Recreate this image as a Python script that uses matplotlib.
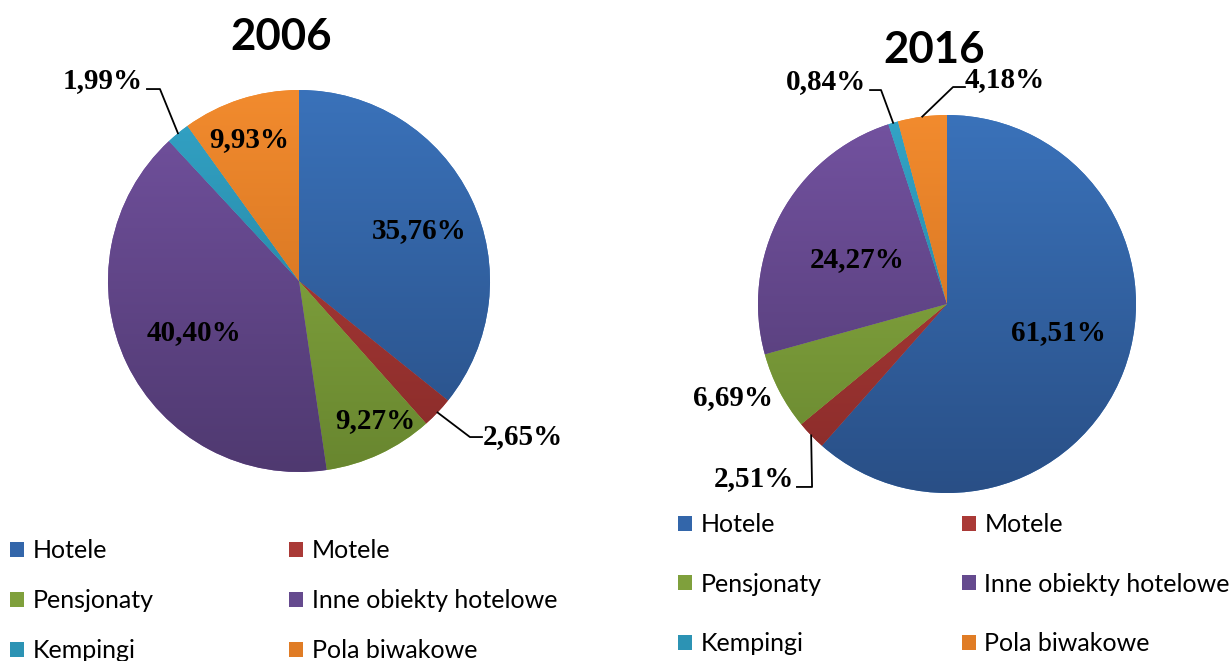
import numpy as np
import matplotlib
matplotlib.use('Agg')
import matplotlib.pyplot as plt
from matplotlib.patches import Patch
from matplotlib.colors import LinearSegmentedColormap

# ---------------- data ----------------
categories = ['Hotele', 'Motele', 'Pensjonaty', 'Inne obiekty hotelowe',
              'Kempingi', 'Pola biwakowe']
shares_2006 = [35.76, 2.65, 9.27, 40.40, 1.99, 9.93]
shares_2016 = [61.51, 2.51, 6.69, 24.27, 0.84, 4.18]
years = ['2006', '2016']

# ---------------- style ----------------
top_colors = ['#3A72BA', '#B7403D', '#8EB245', '#7352A0', '#33A4C7', '#F28B2E']
bot_colors = ['#294F86', '#882B29', '#68862F', '#4F3970', '#217792', '#C76A1C']
legend_colors = ['#3366AA', '#AA3A37', '#7FA03C', '#654A8E', '#2C93B4', '#E07C25']

W, H = 1231, 661
fig = plt.figure(figsize=(W / 100, H / 100), dpi=100)
fig.patch.set_facecolor('white')

LABEL_FONT = dict(family='Liberation Serif', weight='bold', size=21)
TITLE_FONT = dict(family='Lato', weight='bold', size=31.5)


def pie_axes(cx, cy, r):
    ax = fig.add_axes([(cx - r) / W, (H - cy - r) / H, 2 * r / W, 2 * r / H])
    ax.set_xlim(-1, 1)
    ax.set_ylim(-1, 1)
    ax.set_aspect('equal')
    ax.axis('off')
    return ax


def fmt(v):
    return f"{v:.2f}%".replace('.', ',')


def draw_pie(ax, values, label_pos, leaders):
    wedges, _ = ax.pie(values, startangle=90, counterclock=False, radius=1,
                       colors=top_colors, wedgeprops=dict(linewidth=0))
    grad = np.linspace(1, 0, 256).reshape(-1, 1)
    for w, c0, c1 in zip(wedges, top_colors, bot_colors):
        cmap = LinearSegmentedColormap.from_list('g', [c1, c0])
        im = ax.imshow(grad, cmap=cmap, extent=[-1, 1, -1, 1], origin='upper',
                       aspect='auto', vmin=0, vmax=1, zorder=2, interpolation='bilinear')
        im.set_clip_path(w)
    ax.set_xlim(-1, 1)
    ax.set_ylim(-1, 1)
    for i, (v, (lx, ly)) in enumerate(zip(values, label_pos)):
        ax.text(lx, ly, fmt(v), ha='center', va='center', zorder=5,
                clip_on=False, **LABEL_FONT)
    for i, pts in leaders.items():
        w = wedges[i]
        mid = np.deg2rad((w.theta1 + w.theta2) / 2)
        xs = [np.cos(mid)] + [p[0] for p in pts]
        ys = [np.sin(mid)] + [p[1] for p in pts]
        ax.plot(xs, ys, color='black', lw=1.3, clip_on=False, zorder=6)


# ---- 2006 ----
ax1 = pie_axes(299, 281, 191)
draw_pie(ax1, shares_2006,
         [(0.628, 0.262), (1.173, -0.812), (0.398, -0.728),
          (-0.550, -0.272), (-1.026, 1.052), (-0.262, 0.743)],
         {4: [(-0.728, 1.005), (-0.796, 1.005)],
          1: [(0.895, -0.817), (0.958, -0.817)]})

# ---- 2016 ----
ax2 = pie_axes(947, 304, 189)
draw_pie(ax2, shares_2016,
         [(0.587, -0.153), (-1.021, -0.921), (-1.132, -0.497),
          (-0.476, 0.233), (-0.640, 1.175), (0.307, 1.185)],
         {4: [(-0.349, 1.132), (-0.407, 1.132)],
          5: [(0.032, 1.148), (0.095, 1.148)],
          1: [(-0.714, -0.968), (-0.794, -0.968)]})

fig.text(281 / W, 1 - 37 / H, years[0], ha='center', va='center', **TITLE_FONT)
fig.text(934 / W, 1 - 50 / H, years[1], ha='center', va='center', **TITLE_FONT)

# ---- legends ----
handles = [Patch(facecolor=c, edgecolor='none') for c in legend_colors]
col1 = [0, 2, 4]
col2 = [1, 3, 5]


def add_legend(idx, x, y, spacing):
    lg = fig.legend([handles[i] for i in idx], [categories[i] for i in idx],
                    loc='upper left', bbox_to_anchor=(x / W, 1 - y / H),
                    frameon=False, borderpad=0, borderaxespad=0,
                    handlelength=0.56, handleheight=0.56, handletextpad=0.34,
                    labelspacing=spacing,
                    prop=dict(family='Lato', size=18))
    return lg


add_legend(col1, 10, 539, 1.08)
add_legend(col2, 289, 539, 1.08)
add_legend(col1, 678, 513, 1.46)
add_legend(col2, 962, 513, 1.46)

fig.savefig('out.png', dpi=100, facecolor='white')
